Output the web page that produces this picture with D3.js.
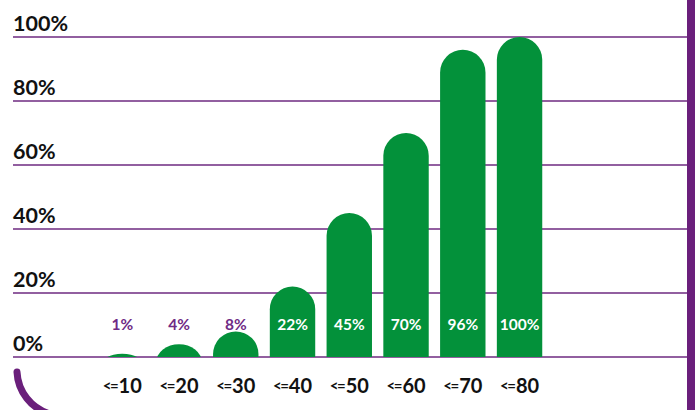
<!DOCTYPE html>
<html>
<head>
<meta charset="utf-8">
<script src="https://cdn.jsdelivr.net/npm/d3@7"></script>
<style>
  html, body { margin: 0; padding: 0; background: #ffffff; }
  svg { display: block; }
  text { font-family: Lato, "Open Sans", sans-serif; font-weight: 700; }
</style>
</head>
<body>
<svg id="chart" width="699" height="410"></svg>
<script>
// Share of respondents by age band
const categories = ["<=10", "<=20", "<=30", "<=40", "<=50", "<=60", "<=70", "<=80"];
const values = [0.01, 0.04, 0.08, 0.22, 0.45, 0.70, 0.96, 1.00];
const valueLabels = ["1%", "4%", "8%", "22%", "45%", "70%", "96%", "100%"];
const yTicks = [0, 0.2, 0.4, 0.6, 0.8, 1.0];

const W = 699, H = 410;
const green = "#03913a";
const purple = "#6a1f7b";
const labelPurple = "#6f2a85";

const svg = d3.select("#chart");

const x = d3.scaleBand()
  .domain(categories)
  .range([88.2, 553.6])
  .paddingInner(0.2)
  .paddingOuter(0.2);

const y = d3.scaleLinear().domain([0, 1]).range([357, 37]);

// horizontal gridlines with tick labels sitting on them
const grid = svg.append("g");
grid.selectAll("line")
  .data(yTicks)
  .join("line")
  .attr("x1", 13).attr("x2", 688)
  .attr("y1", d => y(d)).attr("y2", d => y(d))
  .attr("stroke", "#6e2a80")
  .attr("stroke-width", 1.4);

grid.selectAll("text")
  .data(yTicks)
  .join("text")
  .attr("x", 13)
  .attr("y", d => y(d) - 6)
  .attr("font-size", 21.5)
  .attr("fill", "#111")
  .text(d3.format(".0%"));

// bars with a fully rounded top, clipped at the baseline
svg.append("clipPath").attr("id", "plot-clip")
  .append("rect")
  .attr("x", 0).attr("y", 0)
  .attr("width", W).attr("height", y(0));

const r = x.bandwidth() / 2;
svg.append("g")
  .attr("clip-path", "url(#plot-clip)")
  .selectAll("rect")
  .data(values)
  .join("rect")
  .attr("x", (d, i) => x(categories[i]))
  .attr("y", d => y(d))
  .attr("width", x.bandwidth())
  .attr("height", d => (y(0) - y(d)) + r)
  .attr("rx", r).attr("ry", r)
  .attr("fill", green);

// value labels: white inside tall bars, purple above short ones
svg.append("g")
  .selectAll("text")
  .data(values)
  .join("text")
  .attr("x", (d, i) => x(categories[i]) + x.bandwidth() / 2)
  .attr("y", 330)
  .attr("text-anchor", "middle")
  .attr("font-size", 15.5)
  .attr("fill", d => (y(d) < 312 ? "#ffffff" : labelPurple))
  .text((d, i) => valueLabels[i]);

// category labels: the "<=" prefix is set smaller than the number
const cat = svg.append("g")
  .selectAll("text")
  .data(categories)
  .join("text")
  .attr("x", d => x(d) + x.bandwidth() / 2)
  .attr("y", 393)
  .attr("text-anchor", "middle")
  .attr("fill", "#111");
cat.append("tspan")
  .attr("font-size", 15)
  .attr("letter-spacing", -1.5)
  .attr("dy", -2)
  .text(d => d.slice(0, 2));
cat.append("tspan")
  .attr("font-size", 20)
  .attr("dx", 1.5)
  .attr("dy", 2)
  .text(d => d.slice(2));

// frame decoration: right edge band and bottom-left corner arc
svg.append("rect")
  .attr("x", 687).attr("y", 0)
  .attr("width", 8).attr("height", H)
  .attr("fill", purple);

svg.append("path")
  .attr("d", "M17,372 A46,46 0 0 0 50,414")
  .attr("fill", "none")
  .attr("stroke", purple)
  .attr("stroke-width", 7)
  .attr("stroke-linecap", "round");
</script>
</body>
</html>
